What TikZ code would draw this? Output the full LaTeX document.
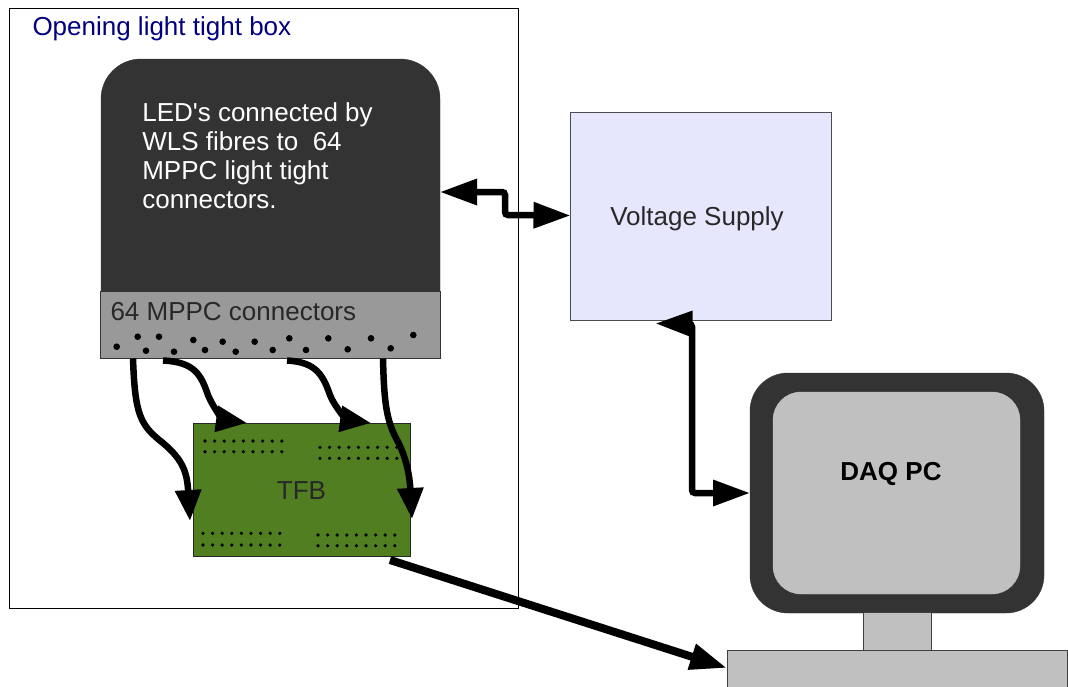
\documentclass[tikz,border=0pt]{standalone}
\usepackage{fontspec}
\setmainfont{Liberation Sans}[Ligatures=TeXOff]
\usetikzlibrary{arrows.meta,calc}
\definecolor{boxdark}{RGB}{51,51,51}
\definecolor{stripgray}{RGB}{153,153,153}
\definecolor{tfbgreen}{RGB}{80,126,33}
\definecolor{supplyblue}{RGB}{230,230,252}
\definecolor{pcgray}{RGB}{192,192,192}
\definecolor{titleblue}{RGB}{0,0,128}
\definecolor{textdark}{RGB}{40,40,40}
\begin{document}
\begin{tikzpicture}[x=1pt,y=-1pt,
  every node/.style={inner sep=0pt, outer sep=0pt},
  txt/.style={font=\fontsize{26}{29}\selectfont},
  enclosure/.style={draw=black, line width=0.9pt, fill=white},
  ledbox/.style={fill=boxdark, draw=boxdark, rounded corners=40pt},
  stripbox/.style={fill=stripgray, draw=boxdark, line width=1.4pt},
  tfbbox/.style={fill=tfbgreen, draw=black!85, line width=1pt},
  supplybox/.style={fill=supplyblue, draw=black!70, line width=1pt},
  monitor/.style={fill=boxdark, draw=boxdark, rounded corners=38pt},
  screen/.style={fill=pcgray, draw=pcgray, rounded corners=28pt},
  partgray/.style={fill=pcgray, draw=black!75, line width=1pt},
  cable/.style={line width=6.5pt, -{Triangle[length=31pt,width=25pt]}},
  datalink/.style={line width=8pt, -{Triangle[length=37pt,width=25pt]}},
  power/.style={line width=6.5pt, rounded corners=3pt,
    {Triangle[length=37pt,width=25pt]}-{Triangle[length=37pt,width=25pt]}},
  pin/.style={fill=black},
]
\useasboundingbox (0,0) rectangle (1068,686);
\fill[white] (0,0) rectangle (1068,686);

% light tight enclosure
\node[enclosure, minimum width=509pt, minimum height=600pt, anchor=north west] (encl) at (9,8) {};
\node[txt, text=titleblue, anchor=base west] (title) at (32.5,35.5) {Opening light tight box};

% LED block with its connector strip
\node[ledbox, minimum width=339pt, minimum height=276pt, anchor=north west] (led) at (101,59) {};
\node[txt, text=white, align=left, anchor=north west] (ledtext) at (142.3,103)
  {LED's connected by\\WLS fibres to~ 64\\MPPC light tight\\connectors.};
\node[stripbox, minimum width=340pt, minimum height=67pt, anchor=north west] (strip) at (100.5,291.5) {};
\node[txt, text=textdark, anchor=base west] (striptext) at (110.5,320.5) {64 MPPC connectors};
\foreach \px/\py in {116.7/346.7,137.7/336.7,146/350.7,159/336.7,174/351.7,193.3/340,
  205/350,222.7/341.7,235.7/351.7,254.7/341.7,272.7/350,289.3/338.3,306/350,
  328.3/338.3,347.7/349.3,371/338.3,390.7/348.3,413.3/335}
  \fill[pin] (\px,\py) circle (3.3);

% trip-t front-end board
\node[tfbbox, minimum width=217pt, minimum height=133pt, anchor=north west] (tfb) at (193,423) {};
\node[txt, text=textdark] (tfblabel) at (301.5,491) {TFB};
\foreach \sx/\sy in {205/441,205/451.7,320/447.3,320/458.3,203/533.3,203/545,318/535,318/545.7}
  \foreach \i in {0,...,8}
    \fill[pin] (\sx+\i*9.6,\sy) circle (1.8);

% voltage supply
\node[supplybox, minimum width=261pt, minimum height=208pt, anchor=north west] (vs) at (570.5,112.5) {};
\node[txt, text=textdark] (vslabel) at (697,218.5) {Voltage Supply};

% DAQ PC
\node[monitor, minimum width=294pt, minimum height=240pt] (mon) at (897,493) {};
\node[screen, minimum width=247pt, minimum height=202pt] (scr) at (896.5,493) {};
\node[txt, font=\fontsize{26}{29}\selectfont\bfseries] (daq) at (891,474) {DAQ PC};
\node[partgray, minimum width=68pt, minimum height=38pt, anchor=north west] (stand) at (863,612.5) {};
\node[partgray, minimum width=340pt, minimum height=45pt, anchor=north west] (kbd) at (727,650) {};

% fibre cables from the strip to the board
\coordinate (f1) at ($(strip.south west)+(32.5,0)$);
\coordinate (f2) at ($(strip.south west)+(62.5,2)$);
\coordinate (f3) at ($(strip.south west)+(186.5,2)$);
\coordinate (f4) at ($(strip.south west)+(282.5,0)$);
\coordinate (t1) at ($(tfb.north west)+(-3,98)$);
\coordinate (t2) at ($(tfb.north west)+(54,0)$);
\coordinate (t3) at ($(tfb.north west)+(178,0)$);
\coordinate (t4) at ($(tfb.north east)+(2,96)$);
\draw[cable] (f1) .. controls (135,415) and (140,425) .. (163,443)
  .. controls (183,460) and (187,472) .. (t1);
\draw[cable] (f2) .. controls (195,362) and (201,375) .. (208,395)
  .. controls (214,410) and (225,420) .. (t2);
\draw[cable] (f3) .. controls (316,362) and (323,375) .. (330,395)
  .. controls (336,410) and (349,420) .. (t3);
\draw[cable] (f4) .. controls (384,400) and (386,420) .. (397,440)
  .. controls (408,460) and (410,482) .. (t4);

% board to computer
\coordinate (b1) at ($(tfb.south east)+(-20,4)$);
\coordinate (k1) at ($(kbd.north west)+(0,18)$);
\draw[datalink] (b1) -- (k1);

% power lines
\coordinate (p1) at ($(led.north east)+(0,133)$);
\coordinate (p2) at ($(vs.west)+(0,-1)$);
\draw[power] (p1) -- (505,192) -- (505,215) -- (p2);
\coordinate (p3) at ($(vs.south)+(-45.5,3)$);
\coordinate (p4) at ($(mon.west)+(0,0)$);
\draw[power] (p3) -- (692,324) -- (692,493) -- (p4);
\end{tikzpicture}
\end{document}
